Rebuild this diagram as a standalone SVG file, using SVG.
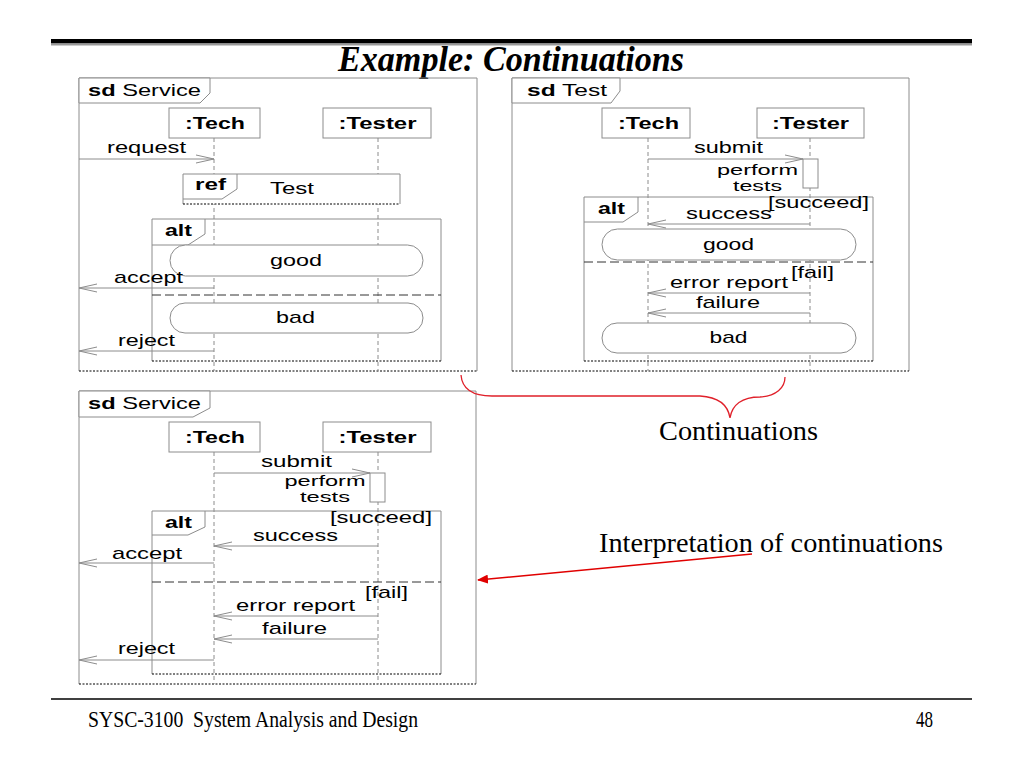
<svg xmlns="http://www.w3.org/2000/svg" width="1024" height="768" viewBox="0 0 1024 768">
<style>
.fr{fill:none;stroke:#8c8c8c;stroke-width:1}
.wf{fill:#fff;stroke:#8c8c8c;stroke-width:1}
.dot{stroke:#000;stroke-width:1;stroke-dasharray:2,1.5;fill:none}
.ll{stroke:#8c8c8c;stroke-width:1;stroke-dasharray:4,3;fill:none}
.msg{stroke:#8c8c8c;stroke-width:1;fill:none;marker-end:url(#open)}
.sep{stroke:#333;stroke-width:1;stroke-dasharray:9,4;fill:none}
.t{font-family:"Liberation Sans",Arial,Helvetica,sans-serif;font-size:17px;fill:#000}
.s{font-size:14px}
.b{font-weight:bold}
.m{text-anchor:middle}
.e{text-anchor:end}
.serif{font-family:"Liberation Serif","Times New Roman",serif;fill:#000}
.red{stroke:#e0202a;stroke-width:1.3;fill:none}
</style>
<defs>
<marker id="open" markerWidth="20" markerHeight="10" refX="18" refY="5" orient="auto" markerUnits="userSpaceOnUse">
<path d="M0,1 L18,5 L0,9" fill="none" stroke="#8c8c8c" stroke-width="1"/>
</marker>
<marker id="redhead" markerWidth="11" markerHeight="9" refX="10" refY="4.5" orient="auto" markerUnits="userSpaceOnUse">
<path d="M0,0 L11,4.5 L0,9 z" fill="#e00000"/>
</marker>
</defs>
<rect width="1024" height="768" fill="#fff"/>

<g id="header">
<rect x="51" y="39" width="921" height="4.5" fill="#000"/>
<rect x="51" y="43.5" width="921" height="2" fill="#999"/>
<text class="serif" x="511" y="71" text-anchor="middle" font-size="36" font-weight="bold" font-style="italic" textLength="346" lengthAdjust="spacingAndGlyphs">Example: Continuations</text>
</g>

<!-- Frame 1: sd Service -->
<g id="frame-service-top">
<polyline class="fr" points="79,371 79,78 477,78 477,371"/>
<line class="dot" x1="79" y1="371" x2="477" y2="371"/>
<polygon class="wf" points="79,78 210,78 210,93 200,103 79,103"/>
<text class="t" x="88" y="96" textLength="113" lengthAdjust="spacingAndGlyphs"><tspan class="b">sd</tspan> Service</text>
</g>
<g id="f1-tech">
<line class="ll" x1="214" y1="138" x2="214" y2="371"/>
<rect class="wf" x="169" y="108" width="91" height="30"/>
<text class="t b m" x="215" y="129" textLength="60" lengthAdjust="spacingAndGlyphs">:Tech</text>
</g>
<g id="f1-tester">
<line class="ll" x1="378" y1="138" x2="378" y2="371"/>
<rect class="wf" x="323" y="108" width="108" height="30"/>
<text class="t b m" x="377.5" y="129" textLength="78" lengthAdjust="spacingAndGlyphs">:Tester</text>
</g>
<g id="f1-ref">
<polyline points="183,204 183,174 400,174 400,204" fill="#fff" stroke="#8c8c8c"/>
<line class="dot" x1="183" y1="204" x2="400" y2="204"/>
<polyline class="fr" points="183,199 222,199 237,189 237,174"/>
<text class="t b" x="195" y="190" textLength="31" lengthAdjust="spacingAndGlyphs">ref</text>
<text class="t m" x="292" y="194" textLength="44" lengthAdjust="spacingAndGlyphs">Test</text>
</g>
<g id="f1-alt">
<polyline class="fr" points="152,361 152,219 441,219 441,361"/>
<line class="dot" x1="152" y1="361" x2="441" y2="361"/>
<polyline class="fr" points="152,245 188,245 205,234 205,219"/>
<text class="t b" x="165" y="236" textLength="27" lengthAdjust="spacingAndGlyphs">alt</text>
<line class="sep" x1="152" y1="295" x2="441" y2="295"/>
</g>
<g id="f1-good">
<rect class="wf" x="170" y="245" width="253" height="31" rx="15.5"/>
<text class="t m" x="296" y="266" textLength="52" lengthAdjust="spacingAndGlyphs">good</text>
</g>
<g id="f1-bad">
<rect class="wf" x="170" y="303" width="253" height="30" rx="15"/>
<text class="t m" x="295.5" y="323" textLength="39" lengthAdjust="spacingAndGlyphs">bad</text>
</g>

<!-- Frame 2: sd Test -->
<g id="frame-test">
<polyline class="fr" points="512,371 512,78 909,78 909,371"/>
<line class="dot" x1="512" y1="371" x2="909" y2="371"/>
<polygon class="wf" points="512,78 620,78 620,91 611,103 512,103"/>
<text class="t" x="527" y="96" textLength="80" lengthAdjust="spacingAndGlyphs"><tspan class="b">sd</tspan> Test</text>
</g>
<g id="f2-tech">
<line class="ll" x1="648" y1="138" x2="648" y2="371"/>
<rect class="wf" x="602" y="108" width="88" height="30"/>
<text class="t b m" x="648.5" y="129" textLength="61" lengthAdjust="spacingAndGlyphs">:Tech</text>
</g>
<g id="f2-tester">
<line class="ll" x1="810" y1="138" x2="810" y2="371"/>
<rect class="wf" x="757" y="108" width="107" height="30"/>
<text class="t b m" x="810.5" y="129" textLength="77" lengthAdjust="spacingAndGlyphs">:Tester</text>
</g>
<g id="f2-activation">
<rect class="wf" x="803" y="159" width="15" height="29"/>
<text class="t s m" x="757.5" y="175" textLength="81" lengthAdjust="spacingAndGlyphs">perform</text>
<text class="t s m" x="757.5" y="191" textLength="49" lengthAdjust="spacingAndGlyphs">tests</text>
</g>
<g id="f2-alt">
<polyline class="fr" points="584,361 584,197 873,197 873,361"/>
<line class="dot" x1="584" y1="361" x2="873" y2="361"/>
<polyline class="fr" points="584,222 623,222 638,212 638,197"/>
<text class="t b" x="598" y="214" textLength="27" lengthAdjust="spacingAndGlyphs">alt</text>
<text class="t" x="768" y="208" textLength="101" lengthAdjust="spacingAndGlyphs">[succeed]</text>
<line class="sep" x1="584" y1="262" x2="873" y2="262"/>
<text class="t" x="791" y="278" textLength="43" lengthAdjust="spacingAndGlyphs">[fail]</text>
</g>
<g id="f2-good">
<rect class="wf" x="602" y="229" width="254" height="31" rx="15.5"/>
<text class="t m" x="728.5" y="250" textLength="51" lengthAdjust="spacingAndGlyphs">good</text>
</g>
<g id="f2-bad">
<rect class="wf" x="602" y="323" width="254" height="30" rx="15"/>
<text class="t m" x="728.5" y="343" textLength="38" lengthAdjust="spacingAndGlyphs">bad</text>
</g>

<!-- Frame 3: sd Service interpretation -->
<g id="frame-service-bottom">
<polyline class="fr" points="79,684 79,391 476,391 476,684"/>
<line class="dot" x1="79" y1="684" x2="476" y2="684"/>
<polygon class="wf" points="79,391 210,391 210,408 193,417 79,417"/>
<text class="t" x="88" y="409" textLength="113" lengthAdjust="spacingAndGlyphs"><tspan class="b">sd</tspan> Service</text>
</g>
<g id="f3-tech">
<line class="ll" x1="214" y1="452" x2="214" y2="684"/>
<rect class="wf" x="169" y="422" width="91" height="30"/>
<text class="t b m" x="215" y="443" textLength="60" lengthAdjust="spacingAndGlyphs">:Tech</text>
</g>
<g id="f3-tester">
<line class="ll" x1="378" y1="452" x2="378" y2="684"/>
<rect class="wf" x="323" y="422" width="108" height="30"/>
<text class="t b m" x="377.5" y="443" textLength="78" lengthAdjust="spacingAndGlyphs">:Tester</text>
</g>
<g id="f3-activation">
<rect class="wf" x="370" y="473" width="15" height="29"/>
<text class="t s m" x="325" y="486" textLength="81" lengthAdjust="spacingAndGlyphs">perform</text>
<text class="t s m" x="325" y="502" textLength="50" lengthAdjust="spacingAndGlyphs">tests</text>
</g>
<g id="f3-alt">
<polyline class="fr" points="152,674 152,511 441,511 441,674"/>
<line class="dot" x1="152" y1="674" x2="441" y2="674"/>
<polyline class="fr" points="152,535 188,535 205,527 205,511"/>
<text class="t b" x="165" y="528" textLength="27" lengthAdjust="spacingAndGlyphs">alt</text>
<text class="t" x="330" y="523" textLength="102" lengthAdjust="spacingAndGlyphs">[succeed]</text>
<line class="sep" x1="152" y1="582" x2="441" y2="582"/>
<text class="t" x="365" y="598" textLength="43" lengthAdjust="spacingAndGlyphs">[fail]</text>
</g>

<g id="connectors">
<!-- frame 1 -->
<line class="msg" x1="79" y1="159" x2="214" y2="159"/>
<text class="t" x="107" y="153" textLength="79" lengthAdjust="spacingAndGlyphs">request</text>
<line class="msg" x1="214" y1="288" x2="79" y2="288"/>
<text class="t" x="114" y="283" textLength="69" lengthAdjust="spacingAndGlyphs">accept</text>
<line class="msg" x1="214" y1="351" x2="79" y2="351"/>
<text class="t" x="118" y="346" textLength="57" lengthAdjust="spacingAndGlyphs">reject</text>
<!-- frame 2 -->
<line class="msg" x1="648" y1="159" x2="803" y2="159"/>
<text class="t m" x="728.5" y="153" textLength="69" lengthAdjust="spacingAndGlyphs">submit</text>
<line class="msg" x1="810" y1="224" x2="648" y2="224"/>
<text class="t m" x="729" y="219" textLength="86" lengthAdjust="spacingAndGlyphs">success</text>
<line class="msg" x1="810" y1="293" x2="648" y2="293"/>
<text class="t m" x="729" y="288" textLength="118" lengthAdjust="spacingAndGlyphs">error report</text>
<line class="msg" x1="810" y1="313" x2="648" y2="313"/>
<text class="t m" x="728" y="308" textLength="64" lengthAdjust="spacingAndGlyphs">failure</text>
<!-- frame 3 -->
<line class="msg" x1="214" y1="473" x2="370" y2="473"/>
<text class="t m" x="296.5" y="467" textLength="71" lengthAdjust="spacingAndGlyphs">submit</text>
<line class="msg" x1="378" y1="546" x2="214" y2="546"/>
<text class="t m" x="295.5" y="541" textLength="85" lengthAdjust="spacingAndGlyphs">success</text>
<line class="msg" x1="214" y1="563" x2="79" y2="563"/>
<text class="t" x="112" y="559" textLength="70" lengthAdjust="spacingAndGlyphs">accept</text>
<line class="msg" x1="378" y1="616" x2="214" y2="616"/>
<text class="t m" x="295.5" y="611" textLength="119" lengthAdjust="spacingAndGlyphs">error report</text>
<line class="msg" x1="378" y1="639" x2="214" y2="639"/>
<text class="t m" x="294.5" y="634" textLength="65" lengthAdjust="spacingAndGlyphs">failure</text>
<line class="msg" x1="214" y1="660" x2="79" y2="660"/>
<text class="t" x="118" y="654" textLength="57" lengthAdjust="spacingAndGlyphs">reject</text>
</g>

<g id="annotations">
<path class="red" d="M461,375 C462,388 472,396 492,396 L700,396 C718,397 728,405 730,418 C732,405 742,397 760,397 C776,396 785,388 785,377"/>
<text class="serif" x="659" y="440" font-size="28" textLength="159" lengthAdjust="spacingAndGlyphs">Continuations</text>
<text class="serif" x="599" y="552" font-size="28" textLength="344" lengthAdjust="spacingAndGlyphs">Interpretation of continuations</text>
<line x1="752" y1="554" x2="478" y2="580" stroke="#e00000" stroke-width="1.5" marker-end="url(#redhead)"/>
</g>

<g id="footer">
<line x1="51" y1="699" x2="972" y2="699" stroke="#000" stroke-width="1.5"/>
<text class="serif" x="88" y="727" font-size="24" textLength="330" lengthAdjust="spacingAndGlyphs">SYSC-3100&#160; System Analysis and Design</text>
<text class="serif" x="916" y="727" font-size="24" textLength="17" lengthAdjust="spacingAndGlyphs">48</text>
</g>
</svg>
